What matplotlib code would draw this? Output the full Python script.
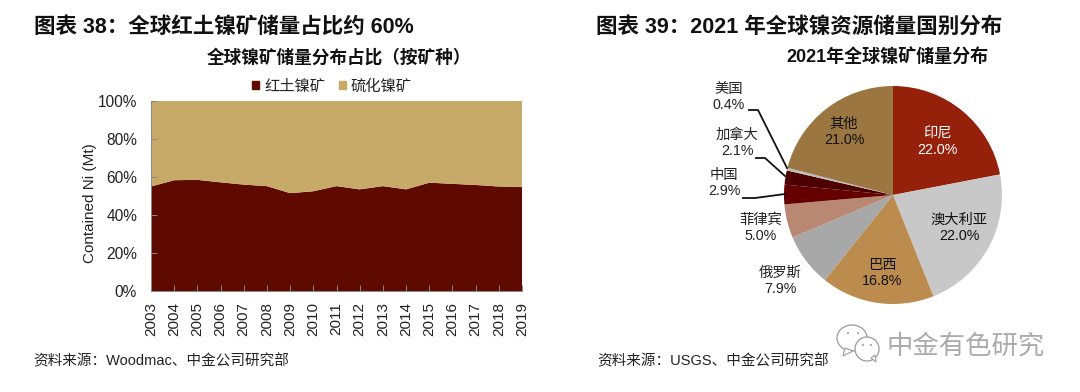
import matplotlib
matplotlib.use("Agg")
import matplotlib.pyplot as plt
from matplotlib.patches import Patch, Ellipse, Polygon

plt.rcParams["font.family"] = ["Liberation Sans", "Noto Sans CJK SC"]

W, H = 1080, 392

# left chart data
years = [2003, 2004, 2005, 2006, 2007, 2008, 2009, 2010, 2011, 2012, 2013, 2014, 2015, 2016, 2017, 2018, 2019]
laterite = [55.0, 58.3, 58.5, 57.2, 56.0, 55.2, 51.5, 52.5, 55.2, 53.5, 55.2, 53.5, 57.0, 56.4, 55.8, 55.0, 54.8]
sulfide = [45.0, 41.7, 41.5, 42.8, 44.0, 44.8, 48.5, 47.5, 44.8, 46.5, 44.8, 46.5, 43.0, 43.6, 44.2, 45.0, 45.2]
y_ticks = [0, 20, 40, 60, 80, 100]

# right chart data, clockwise from the top
countries = ["印尼", "澳大利亚", "巴西", "俄罗斯", "菲律宾", "中国", "加拿大", "美国", "其他"]
shares = [22.0, 22.0, 16.8, 7.9, 5.0, 2.9, 2.1, 0.4, 21.0]
pie_colors = ["#96210B", "#C8C8C8", "#BC8C4E", "#A8A8A8", "#B88872", "#640000", "#4E0000", "#BDBDBD", "#9C7640"]


def box(left, top, right, bottom):
    # pixel box to figure fractions
    return [left / W, 1 - bottom / H, (right - left) / W, (bottom - top) / H]


fig = plt.figure(figsize=(W / 100, H / 100), dpi=100)

# overlay in pixel coordinates for the page text
page = fig.add_axes([0, 0, 1, 1], zorder=5)
page.set_xlim(0, W)
page.set_ylim(H, 0)
page.axis("off")

ax = fig.add_axes(box(151, 101, 522, 291))
ax.stackplot(years, laterite, sulfide, colors=["#5F0A00", "#C8AA68"], linewidth=0)
ax.set_xlim(years[0], years[-1])
ax.set_ylim(0, 100)
ax.set_xticks(years)
ax.set_xticklabels(years, rotation=90, fontsize=11, color="#222222")
ax.set_yticks(y_ticks)
ax.set_yticklabels([f"{v}%" for v in y_ticks], fontsize=11.2, color="#222222")
ax.tick_params(axis="both", direction="in", length=4, width=0.7, color="#888888")
ax.tick_params(axis="y", pad=10)
ax.tick_params(axis="x", pad=8)
ax.set_ylabel("Contained Ni (Mt)", fontsize=11, color="#222222")
ax.yaxis.set_label_coords(-0.146, 0.463)
for s in ["top", "right"]:
    ax.spines[s].set_visible(False)
for s in ["left", "bottom"]:
    ax.spines[s].set_color("#888888")
    ax.spines[s].set_linewidth(0.7)

handles = [Patch(color="#5F0A00"), Patch(color="#C8AA68")]
leg = ax.legend(handles, ["红土镍矿", "硫化镍矿"], ncol=2, frameon=False, fontsize=11,
                loc="lower center", bbox_to_anchor=(0.488, 1.0), handlelength=0.46, handleheight=0.46,
                handletextpad=0.35, columnspacing=0.85, borderaxespad=0.1)
for t in leg.get_texts():
    t.set_color("#222222")

# pie
pie_ax = fig.add_axes(box(784, 86, 1002, 304))
pie_ax.pie(shares, colors=pie_colors, startangle=90, counterclock=False, radius=1,
           wedgeprops={"linewidth": 0})
pie_ax.set_xlim(-1, 1)
pie_ax.set_ylim(-1, 1)

# titles
page.text(34, 27, "图表 38：全球红土镍矿储量占比约 60%", fontsize=15.5, fontweight="bold", va="center", color="#111111")
page.text(596, 27, "图表 39：2021 年全球镍资源储量国别分布", fontsize=15.5, fontweight="bold", va="center", color="#111111")
page.text(339, 58, "全球镍矿储量分布占比（按矿种）", fontsize=12.7, fontweight="bold", ha="center", va="center", color="#111111")
page.text(887, 58, "2021年全球镍矿储量分布", fontsize=13, fontweight="bold", ha="center", va="center", color="#111111")
page.text(33, 361, "资料来源：Woodmac、中金公司研究部", fontsize=10.5, va="center", color="#222222")
page.text(597, 361, "资料来源：USGS、中金公司研究部", fontsize=10.5, va="center", color="#222222")

# pie labels, placed by hand like the original
label_pos = [(937, 142, "white"), (959, 228, "#111111"), (882, 273, "#111111"), (780, 281, "#222222"),
             (761, 228, "#222222"), (724, 183, "#222222"), (737, 143, "#222222"), (729, 97, "#222222"),
             (844, 132, "#111111")]
for name, share, (x, y, c) in zip(countries, shares, label_pos):
    page.text(x, y, f"{name}\n{share:.1f}%", fontsize=10.3, ha="center", va="center", color=c, linespacing=1.2)

# leader lines
page.plot([749, 758, 787], [110, 110, 168], color="#111111", lw=1.3)
page.plot([756, 765, 785], [158, 158, 176], color="#111111", lw=1.3)
page.plot([743, 755, 785], [198, 198, 194], color="#111111", lw=1.3)

# watermark
wm = "#9A9A9A"
page.add_patch(Ellipse((852, 338), 30, 26, fc="white", ec=wm, lw=0.9))
page.add_patch(Polygon([(845, 348), (843, 356), (853, 351)], closed=True, fc="white", ec=wm, lw=0.8))
page.add_patch(Ellipse((867, 349), 24, 24, fc="white", ec=wm, lw=0.9))
page.add_patch(Polygon([(871, 358), (876, 362), (875, 355)], closed=True, fc="white", ec=wm, lw=0.8))
for ex, ey in [(848, 333), (858, 333), (863, 345), (871, 345)]:
    page.add_patch(Ellipse((ex, ey), 2, 2, fc=wm, ec="none"))
page.text(966, 346, "中金有色研究", fontsize=19, ha="center", va="center", color="#ABABAB")

fig.savefig("out.png", dpi=100)
